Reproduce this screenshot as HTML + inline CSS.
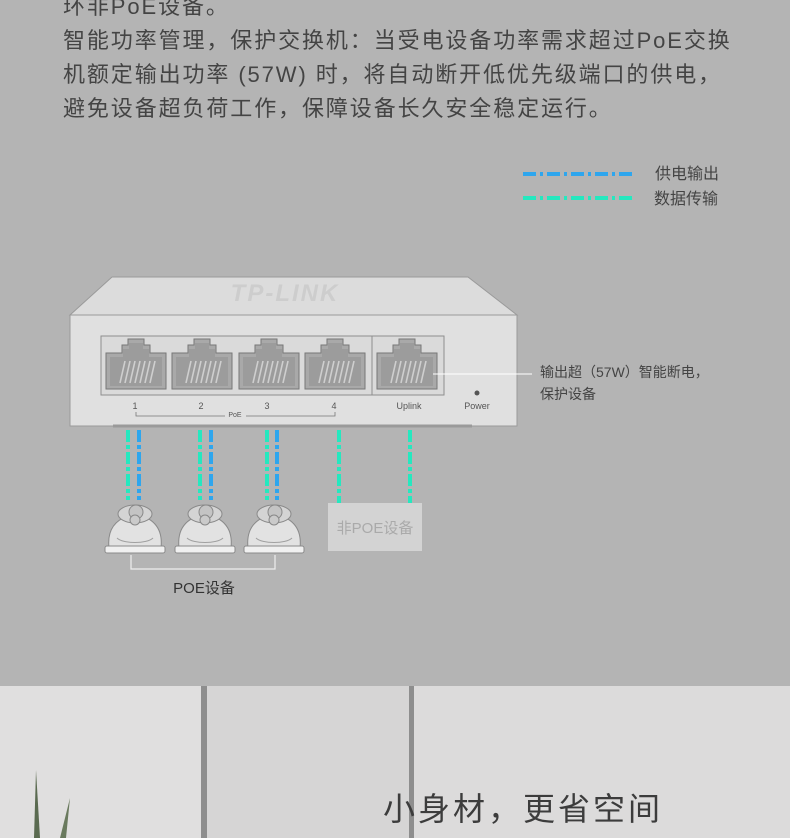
<!DOCTYPE html>
<html><head><meta charset="utf-8"><style>
html,body{margin:0;padding:0;background:#b4b4b4;}
svg{display:block}
text{font-family:"Liberation Sans","Noto Sans CJK SC",sans-serif;}
</style></head><body>
<svg width="790" height="838" viewBox="0 0 790 838" xmlns="http://www.w3.org/2000/svg">
<defs>
<g id="port">
<path d="M0,14 h16 v-8 h6 v-6 h16 v6 h6 v8 h16 v36 h-60 z" fill="#a9a9a9" stroke="#777" stroke-width="1"/>
<path d="M4,18 h13 v-8 h6 v-6 h14 v6 h6 v8 h13 v29 h-52 z" fill="#9c9c9c"/>
<g stroke="#cfcfcf" stroke-width="1.6">
<line x1="14" y1="44" x2="19" y2="22"/><line x1="19" y1="44" x2="24" y2="22"/><line x1="24" y1="44" x2="29" y2="22"/><line x1="29" y1="44" x2="34" y2="22"/><line x1="34" y1="44" x2="39" y2="22"/><line x1="39" y1="44" x2="44" y2="22"/><line x1="44" y1="44" x2="49" y2="22"/>
</g>
</g>
<g id="cam">
<path d="M4,48 C2,30 10,18 30,14 C50,18 58,30 56,48 z" fill="#e2e2e2" stroke="#8a8a8a" stroke-width="1"/>
<ellipse cx="30" cy="14" rx="17" ry="9" fill="#d4d4d4" stroke="#8a8a8a"/>
<circle cx="31" cy="12" r="7" fill="#c4c4c4" stroke="#888"/>
<circle cx="30" cy="20" r="5" fill="#cacaca" stroke="#888"/>
<path d="M12,38 C18,44 42,44 48,38" fill="none" stroke="#a0a0a0"/>
<rect x="0" y="46" width="60" height="7" rx="2" fill="#f0f0f0" stroke="#8a8a8a"/>
</g>
</defs>
<rect width="790" height="686" fill="#b4b4b4"/>
<g fill="#444" font-size="22" letter-spacing="1.9">
<text x="63" y="14">环非PoE设备。</text>
<text x="63" y="48">智能功率管理，保护交换机：当受电设备功率需求超过PoE交换</text>
<text x="63" y="82">机额定输出功率 (57W) 时，将自动断开低优先级端口的供电，</text>
<text x="63" y="116">避免设备超负荷工作，保障设备长久安全稳定运行。</text>
</g>
<line x1="523" y1="174" x2="636" y2="174" stroke="#2ea6ee" stroke-width="4" stroke-dasharray="13,4,3,4"/>
<line x1="523" y1="198" x2="636" y2="198" stroke="#25e8bf" stroke-width="4" stroke-dasharray="13,4,3,4"/>
<text x="655" y="179" font-size="16" fill="#444">供电输出</text>
<text x="654" y="204" font-size="16" fill="#444">数据传输</text>
<path d="M70,315 L112,277 L468,277 L517,315 z" fill="#dcdcdc" stroke="#9a9a9a"/>
<text x="285" y="301" font-size="24" font-weight="bold" font-style="italic" fill="#cdcdcd" text-anchor="middle" letter-spacing="2">TP-LINK</text>
<rect x="70" y="315" width="447" height="111" fill="#e0e0e0" stroke="#9a9a9a"/>
<line x1="113" y1="426" x2="472" y2="426" stroke="#9a9a9a" stroke-width="3"/>
<rect x="101" y="336" width="343" height="59" fill="#dadada" stroke="#8e8e8e"/>
<line x1="372" y1="336" x2="372" y2="395" stroke="#8e8e8e"/>
<use href="#port" x="106" y="339"/>
<use href="#port" x="172" y="339"/>
<use href="#port" x="239" y="339"/>
<use href="#port" x="305" y="339"/>
<use href="#port" x="377" y="339"/>
<line x1="433" y1="374" x2="532" y2="374" stroke="#fff" stroke-width="1"/>
<g font-size="9" fill="#555" text-anchor="middle">
<text x="135" y="409">1</text><text x="201" y="409">2</text><text x="267" y="409">3</text><text x="334" y="409">4</text>
<text x="409" y="409">Uplink</text><text x="477" y="409">Power</text>
<text x="235" y="417" font-size="7">PoE</text>
</g>
<circle cx="477" cy="393" r="2.5" fill="#555"/>
<path d="M136,412 V416 H225 M246,416 H335 V412" fill="none" stroke="#777" stroke-width="0.8"/>
<text x="540" y="377" font-size="14" fill="#444">输出超（57W）智能断电，</text>
<text x="540" y="399" font-size="14" fill="#444">保护设备</text>
<g stroke-width="4" stroke-dasharray="12,3,4,3">
<line x1="128" y1="430" x2="128" y2="500" stroke="#25e8bf"/>
<line x1="139" y1="430" x2="139" y2="500" stroke="#2ea6ee"/>
<line x1="200" y1="430" x2="200" y2="500" stroke="#25e8bf"/>
<line x1="211" y1="430" x2="211" y2="500" stroke="#2ea6ee"/>
<line x1="267" y1="430" x2="267" y2="500" stroke="#25e8bf"/>
<line x1="277" y1="430" x2="277" y2="500" stroke="#2ea6ee"/>
<line x1="339" y1="430" x2="339" y2="503" stroke="#25e8bf"/>
<line x1="410" y1="430" x2="410" y2="503" stroke="#25e8bf"/>
</g>
<use href="#cam" x="105" y="500"/>
<use href="#cam" x="175" y="500"/>
<use href="#cam" x="244" y="500"/>
<path d="M131,555 V569 H275 V555" fill="none" stroke="#eee" stroke-width="1.2"/>
<text x="204" y="593" font-size="15" fill="#333" text-anchor="middle">POE设备</text>
<rect x="328" y="503" width="94" height="48" fill="#d3d3d3"/>
<text x="375" y="533" font-size="15" fill="#aaa" text-anchor="middle">非POE设备</text>
<rect x="0" y="686" width="790" height="152" fill="#dcdbdb"/>
<rect x="0" y="686" width="203" height="152" fill="#e0dfdf"/>
<rect x="207" y="686" width="203" height="152" fill="#d6d5d5"/>
<rect x="201" y="686" width="6" height="152" fill="#8e8e8e"/>
<rect x="409" y="686" width="5" height="152" fill="#8e8e8e"/>
<path d="M34,838 L36,770 L40,838" fill="#5a6a50"/>
<path d="M60,838 L70,798 L66,838" fill="#6a7a5e"/>
<text x="383" y="820" font-size="32" fill="#3c3c3c" letter-spacing="3">小身材，更省空间</text>
</svg>
</body></html>
